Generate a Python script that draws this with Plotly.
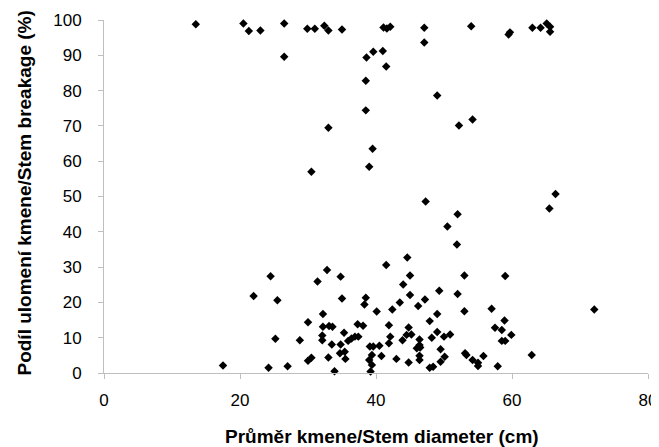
import plotly.graph_objects as go

# Stem diameter (cm)
diameter = [
    13.5, 20.5, 21.3, 23.0, 26.5, 26.5, 29.9, 31.0, 32.4, 33.0, 35.0, 38.6, 39.6, 41.0, 38.5, 38.5, 33.0,
    41.1, 41.6, 42.1, 41.5, 47.1, 47.1, 54.0, 49.0, 52.2, 54.2, 59.7, 59.5, 63.0, 64.2, 65.1, 65.6, 65.6,
    39.5, 39.0, 30.5, 66.4, 65.5, 47.3, 52.0, 50.5, 51.9,
    17.5, 22.0, 24.5, 25.5, 25.2, 24.2, 27.0, 28.8, 30.0, 30.0, 30.5, 31.4, 32.8, 34.8, 35.0, 32.2, 32.2,
    33.1, 33.6, 32.1, 32.1, 33.5, 33.0, 33.9, 35.3, 34.8, 34.7, 35.4, 35.5, 35.9, 36.4, 36.9, 37.4, 37.3,
    38.1, 38.5, 38.3, 40.1, 39.6, 39.1, 39.4, 39.0, 39.4, 39.2,
    44.6, 41.5, 45.0, 44.0, 53.0, 59.0, 49.3, 45.0, 52.0, 47.2, 43.5, 46.2, 42.4, 49.0, 53.0, 57.0, 72.1,
    47.9, 58.9, 41.9, 44.8, 57.5, 58.5, 49.0, 42.1, 41.9, 43.9, 44.5, 45.2, 46.4, 48.2, 50.0, 50.9, 59.9,
    58.5, 59.0, 46.4, 46.5, 46.0, 40.5, 49.5, 40.8, 43.0, 46.4, 46.4, 44.8, 50.1, 49.5, 53.1, 53.3, 54.2,
    55.0, 55.0, 55.8, 57.9, 62.9, 47.9, 48.4,
]
# Stem breakage (%)
breakage = [
    98.8, 99.0, 96.9, 97.0, 99.0, 89.6, 97.5, 97.5, 98.4, 97.0, 97.3, 89.4, 91.0, 91.2, 82.8, 74.4, 69.5,
    97.9, 97.6, 98.1, 86.8, 97.8, 93.6, 98.2, 78.6, 70.1, 71.8, 96.5, 95.9, 97.8, 97.8, 99.0, 98.1, 96.7,
    63.5, 58.4, 57.0, 50.7, 46.6, 48.6, 45.0, 41.5, 36.4,
    2.1, 21.8, 27.4, 20.6, 9.7, 1.5, 1.9, 9.3, 14.4, 3.5, 4.3, 25.9, 29.2, 27.3, 21.1, 16.7, 13.1,
    13.3, 13.1, 10.6, 9.3, 8.1, 4.4, 0.5, 11.4, 8.1, 5.6, 6.0, 4.0, 9.1, 9.8, 10.3, 10.3, 13.8,
    13.4, 21.3, 19.4, 17.4, 7.5, 7.5, 5.1, 3.7, 2.3, 0.4,
    32.7, 30.6, 27.6, 25.1, 27.6, 27.5, 23.3, 22.1, 22.4, 20.8, 20.0, 19.0, 18.0, 16.7, 17.5, 18.2, 18.0,
    14.7, 14.9, 13.5, 12.9, 12.8, 12.2, 11.6, 10.3, 8.4, 9.3, 10.8, 10.9, 9.5, 10.0, 10.3, 10.9, 10.8,
    9.1, 9.1, 7.9, 7.2, 7.0, 7.7, 6.7, 4.8, 4.0, 4.9, 3.7, 3.0, 4.6, 3.2, 5.6, 5.1, 3.7,
    2.9, 2.0, 4.8, 1.9, 5.1, 1.5, 1.8,
]

x_ticks = [0, 20, 40, 60, 80]
y_ticks = [0, 10, 20, 30, 40, 50, 60, 70, 80, 90, 100]

x_title = "Průměr kmene/Stem diameter (cm)"
y_title = "Podíl ulomení kmene/Stem breakage (%)"

FONT = "Liberation Sans, Arial, sans-serif"
AXIS_COLOR = "#bfbfbf"

fig = go.Figure(
    go.Scatter(
        x=diameter, y=breakage, mode="markers",
        marker=dict(symbol="diamond", size=6.5, color="black"),
        hoverinfo="x+y", cliponaxis=False,
    )
)

# page body has an 8px margin, so the figure is drawn 8px smaller and offset
fig.update_layout(
    width=651, height=439,
    margin=dict(l=96, r=11, t=12, b=74, autoexpand=False),
    paper_bgcolor="white", plot_bgcolor="white",
    showlegend=False,
    font=dict(family=FONT, size=17, color="black"),
    annotations=[
        dict(text=f"<b>{x_title}</b>", xref="paper", yref="paper",
             x=0.5, y=-0.181, xanchor="center", yanchor="middle", xshift=6,
             showarrow=False, font=dict(family=FONT, size=19, color="black")),
        dict(text=f"<b>{y_title}</b>", xref="paper", yref="paper",
             x=-0.147, y=0.5, xanchor="center", yanchor="middle", textangle=-90, yshift=3,
             showarrow=False, font=dict(family=FONT, size=19, color="black")),
    ],
)

fig.update_xaxes(
    range=[0, 80], tickvals=x_ticks, ticktext=[str(v) for v in x_ticks],
    showgrid=False, zeroline=False, showline=True, linecolor=AXIS_COLOR, linewidth=1,
    ticks="outside", ticklen=5, tickcolor=AXIS_COLOR, ticklabelstandoff=7, automargin=False,
)
fig.update_yaxes(
    range=[0, 100], tickvals=y_ticks, ticktext=[str(v) for v in y_ticks],
    showgrid=False, zeroline=False, showline=True, linecolor=AXIS_COLOR, linewidth=1,
    ticks="outside", ticklen=5, tickcolor=AXIS_COLOR, ticklabelstandoff=13, automargin=False,
)

fig.write_html("out.html")
